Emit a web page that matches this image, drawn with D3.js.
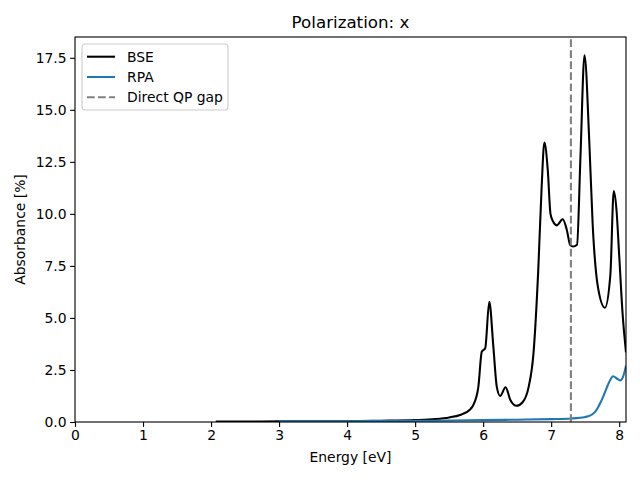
<!DOCTYPE html>
<html>
<head>
<meta charset="utf-8">
<script src="https://cdn.jsdelivr.net/npm/d3@7"></script>
<style>
  body { margin: 0; background: #fff; }
  svg { font-family: "DejaVu Sans", sans-serif; }
</style>
</head>
<body>
<div id="chart"></div>
<script>
// values
var bseEnergy = [2.07, 2.5, 3.0, 3.5, 4.0, 4.5, 5.0, 5.3, 5.5, 5.66, 5.8, 5.86, 5.93, 5.98, 6.03, 6.09, 6.15, 6.20, 6.25, 6.33, 6.40, 6.49, 6.58, 6.67, 6.74, 6.81, 6.86, 6.90, 6.95, 6.99, 7.03, 7.08, 7.17, 7.23, 7.28, 7.32, 7.38, 7.43, 7.49, 7.56, 7.61, 7.69, 7.79, 7.87, 7.92, 7.96, 8.0, 8.05, 8.1];
var bseValues = [0.02, 0.02, 0.03, 0.03, 0.04, 0.06, 0.09, 0.14, 0.22, 0.34, 0.58, 0.85, 1.7, 3.38, 3.54, 5.78, 3.62, 1.7, 1.25, 1.67, 1.06, 0.78, 0.95, 1.7, 3.3, 7.3, 11.3, 13.43, 12.1, 10.0, 9.62, 9.45, 9.74, 9.23, 8.5, 8.43, 8.52, 12.7, 17.62, 13.5, 9.5, 6.43, 5.49, 7.07, 11.1, 10.2, 8.0, 5.2, 3.35];

var rpaEnergy = [3.0, 3.5, 4.0, 4.5, 5.0, 5.5, 6.0, 6.5, 7.0, 7.3, 7.5, 7.6, 7.66, 7.72, 7.77, 7.85, 7.91, 7.97, 8.02, 8.06, 8.1];
var rpaValues = [0.03, 0.03, 0.04, 0.05, 0.06, 0.07, 0.09, 0.11, 0.14, 0.17, 0.24, 0.36, 0.55, 0.9, 1.26, 1.9, 2.2, 2.08, 2.0, 2.2, 2.7];

var qpGap = 7.29;
var xTicks = [0, 1, 2, 3, 4, 5, 6, 7, 8];
var yTicks = [0, 2.5, 5, 7.5, 10, 12.5, 15, 17.5];
var seriesNames = ["BSE", "RPA", "Direct QP gap"];

var width = 640, height = 480;
var margin = {left: 75, right: 14, top: 37, bottom: 58};
var lw = 2.08, axw = 1.11, dash = "7.7,3.33";

var svg = d3.select("#chart").append("svg")
    .attr("width", width).attr("height", height);

var x = d3.scaleLinear().domain([0, 8.1]).range([margin.left, width - margin.right]);
var y = d3.scaleLinear().domain([0, 18.5]).range([height - margin.bottom, margin.top]);

var plot = svg.append("g");
svg.append("clipPath").attr("id", "clip").append("rect")
    .attr("x", margin.left).attr("y", margin.top)
    .attr("width", x.range()[1] - margin.left)
    .attr("height", y.range()[0] - margin.top);
plot.attr("clip-path", "url(#clip)");

var line = d3.line()
    .x(function(d) { return x(d[0]); })
    .y(function(d) { return y(d[1]); })
    .curve(d3.curveMonotoneX);

plot.append("path")
    .datum(d3.zip(bseEnergy, bseValues))
    .attr("d", line)
    .attr("fill", "none").attr("stroke", "#000").attr("stroke-width", lw)
    .attr("stroke-linejoin", "round");

plot.append("path")
    .datum(d3.zip(rpaEnergy, rpaValues))
    .attr("d", line)
    .attr("fill", "none").attr("stroke", "#1f77b4").attr("stroke-width", lw)
    .attr("stroke-linejoin", "round");

plot.append("line")
    .attr("x1", x(qpGap)).attr("x2", x(qpGap))
    .attr("y1", y.range()[0]).attr("y2", y.range()[1])
    .attr("stroke", "#808080").attr("stroke-width", lw)
    .attr("stroke-dasharray", dash);

// axes
var xAxis = svg.append("g")
    .attr("transform", "translate(0," + y.range()[0] + ")")
    .call(d3.axisBottom(x).tickValues(xTicks).tickFormat(d3.format("d")).tickSizeInner(4.9).tickSizeOuter(0).tickPadding(3.5));
var yAxis = svg.append("g")
    .attr("transform", "translate(" + margin.left + ",0)")
    .call(d3.axisLeft(y).tickValues(yTicks).tickFormat(d3.format(".1f")).tickSizeInner(4.9).tickSizeOuter(0).tickPadding(3.5));
[xAxis, yAxis].forEach(function(a) {
    a.select(".domain").remove();
    a.selectAll("line").attr("stroke", "#000").attr("stroke-width", axw);
    a.selectAll("text").attr("font-size", "13.9px").attr("fill", "#000")
        .attr("font-family", "DejaVu Sans, sans-serif");
});

svg.append("rect")
    .attr("x", margin.left).attr("y", margin.top)
    .attr("width", x.range()[1] - margin.left)
    .attr("height", y.range()[0] - margin.top)
    .attr("fill", "none").attr("stroke", "#000").attr("stroke-width", axw);

svg.append("text")
    .attr("x", (x.range()[0] + x.range()[1]) / 2).attr("y", 28)
    .attr("text-anchor", "middle").attr("font-size", "16.7px")
    .text("Polarization: x");

svg.append("text")
    .attr("x", (x.range()[0] + x.range()[1]) / 2).attr("y", 462)
    .attr("text-anchor", "middle").attr("font-size", "13.9px")
    .text("Energy [eV]");

svg.append("text")
    .attr("transform", "translate(25," + ((y.range()[0] + y.range()[1]) / 2) + ") rotate(-90)")
    .attr("text-anchor", "middle").attr("font-size", "13.9px")
    .text("Absorbance [%]");

// legend
var legend = svg.append("g").attr("transform", "translate(82,44)");
legend.append("rect")
    .attr("width", 146).attr("height", 66).attr("rx", 3)
    .attr("fill", "#fff").attr("fill-opacity", 0.8)
    .attr("stroke", "#cccccc").attr("stroke-width", axw);
var legendColors = ["#000", "#1f77b4", "#808080"];
seriesNames.forEach(function(name, i) {
    var yy = 12.7 + i * 20.3;
    legend.append("line")
        .attr("x1", 5).attr("x2", 33).attr("y1", yy).attr("y2", yy)
        .attr("stroke", legendColors[i]).attr("stroke-width", lw)
        .attr("stroke-dasharray", i === 2 ? dash : null);
    legend.append("text")
        .attr("x", 45).attr("y", yy).attr("dy", "0.35em")
        .attr("font-size", "13.9px").text(name);
});
</script>
</body>
</html>
